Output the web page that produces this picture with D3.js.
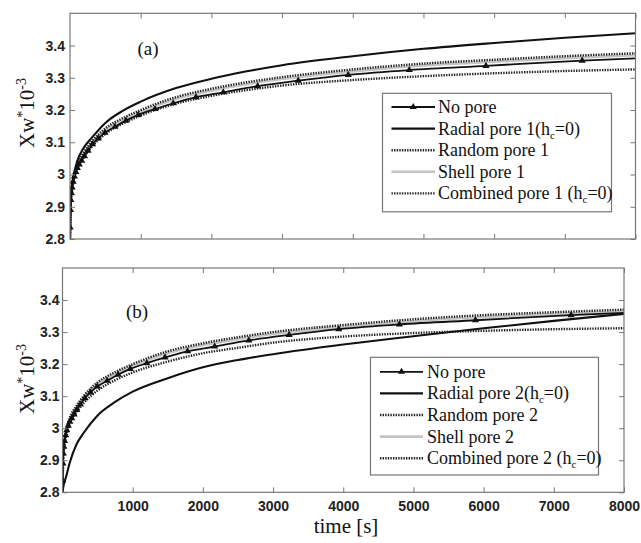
<!DOCTYPE html>
<html>
<head>
<meta charset="utf-8">
<script src="https://cdn.jsdelivr.net/npm/d3@7"></script>
<style>
  body { margin: 0; background: #fff; }
  svg { display: block; }
  .tick text { font-family: "Liberation Sans", Arial, sans-serif; font-weight: bold; font-size: 14px; fill: #222; }
  .tick line { stroke: #777; }
  .serif { font-family: "Liberation Serif", "Times New Roman", serif; fill: #111; }
</style>
</head>
<body>
<div id="chart"></div>
<script>
// shared time grid for the smooth curves (s)
const timeGrid = [0, 10, 25, 50, 100, 200, 300, 500, 750, 1000, 1500, 2000, 2500, 3000, 4000, 5000, 6000, 7000, 8000];

// no pore run (same in both panels), sampled where the markers sit
const noPoreTime = [0, 2, 6, 12, 20, 30, 45, 62, 82, 105, 132, 165, 205, 255, 320, 400, 495, 636, 792, 966, 1202, 1461, 1782, 2168, 2655, 3229, 3936, 4800, 5884, 7246, 8000];
const noPore = [2.800, 2.836, 2.890, 2.921, 2.942, 2.960, 2.978, 2.994, 3.008, 3.020, 3.031, 3.043, 3.057, 3.074, 3.094, 3.112, 3.130, 3.148, 3.167, 3.185, 3.203, 3.221, 3.240, 3.255, 3.274, 3.291, 3.309, 3.324, 3.337, 3.353, 3.360];

// panel (a), pore type 1
const radial1   = [2.80, 2.92, 2.96, 2.995, 3.040, 3.085, 3.112, 3.160, 3.198, 3.226, 3.268, 3.297, 3.320, 3.339, 3.367, 3.390, 3.408, 3.424, 3.438];
const random1   = [2.80, 2.915, 2.952, 2.990, 3.030, 3.070, 3.100, 3.143, 3.175, 3.200, 3.240, 3.266, 3.286, 3.302, 3.326, 3.344, 3.356, 3.367, 3.376];
const shell1    = [2.80, 2.910, 2.947, 2.985, 3.025, 3.065, 3.095, 3.137, 3.169, 3.194, 3.234, 3.260, 3.280, 3.296, 3.320, 3.338, 3.350, 3.361, 3.370];
const combined1 = [2.80, 2.905, 2.940, 2.978, 3.016, 3.055, 3.084, 3.126, 3.158, 3.183, 3.220, 3.244, 3.262, 3.276, 3.293, 3.305, 3.314, 3.321, 3.326];

// panel (b), pore type 2
const radial2   = [2.80, 2.815, 2.830, 2.848, 2.890, 2.950, 2.985, 3.040, 3.082, 3.114, 3.156, 3.190, 3.213, 3.231, 3.261, 3.287, 3.312, 3.335, 3.357];
const random2   = [2.80, 2.915, 2.952, 2.990, 3.030, 3.070, 3.100, 3.143, 3.175, 3.200, 3.240, 3.265, 3.284, 3.300, 3.322, 3.340, 3.353, 3.362, 3.370];
const shell2    = [2.80, 2.910, 2.947, 2.985, 3.025, 3.065, 3.095, 3.137, 3.169, 3.194, 3.234, 3.259, 3.278, 3.294, 3.316, 3.334, 3.347, 3.356, 3.364];
const combined2 = [2.80, 2.905, 2.940, 2.975, 3.013, 3.050, 3.078, 3.118, 3.150, 3.174, 3.208, 3.234, 3.251, 3.267, 3.286, 3.297, 3.304, 3.309, 3.312];

const xTicks = [1000, 2000, 3000, 4000, 5000, 6000, 7000, 8000];
const yTicks = [2.8, 2.9, 3, 3.1, 3.2, 3.3, 3.4];
const xDomain = [0, 8000];
const yDomain = [2.8, 3.5];

const legendNames1 = ["No pore", "Radial pore 1(h|c|=0)", "Random pore 1", "Shell pore 1", "Combined pore 1 (h|c|=0)"];
const legendNames2 = ["No pore", "Radial pore 2(h|c|=0)", "Random pore 2", "Shell pore 2", "Combined pore 2 (h|c|=0)"];

const width = 641, height = 543;

const styles = {
  noPore:   { stroke: "#111", width: 1.8, dash: null, marker: true },
  radial:   { stroke: "#111", width: 2.1, dash: null },
  random:   { stroke: "#222", width: 2.4, dash: "1.4,1.2" },
  shell:    { stroke: "#c4c4c4", width: 2.6, dash: null },
  combined: { stroke: "#222", width: 2.4, dash: "1.4,1.2" },
};

const panels = [
  {
    id: "a", label: "(a)", box: { l: 70, r: 635.5, t: 13.3, b: 239 }, showX: false,
    series: [["shell", shell1], ["random", random1], ["combined", combined1], ["radial", radial1]],
    names: legendNames1, legend: { x: 382.5, y: 93.3, w: 229, h: 118.5, lx0: 391.5, lx1: 435, tx: 438, row0: 107, step: 21.6 },
    tag: { x: 148, y: 55 }, ylab: 113,
  },
  {
    id: "b", label: "(b)", box: { l: 62.5, r: 624, t: 268, b: 492.3 }, showX: true,
    series: [["shell", shell2], ["random", random2], ["combined", combined2], ["radial", radial2]],
    names: legendNames2, legend: { x: 370.5, y: 357.3, w: 228, h: 117.7, lx0: 380, lx1: 423, tx: 427, row0: 371.8, step: 21.6 },
    tag: { x: 137, y: 318 }, ylab: 379,
  },
];

const svg = d3.select("#chart").append("svg")
  .attr("width", width).attr("height", height);

svg.append("rect").attr("width", width).attr("height", height).attr("fill", "#fff");

const marker = d3.symbol().type(d3.symbolTriangle).size(22);

function applyStyle(sel, st) {
  sel.attr("fill", "none")
    .attr("stroke", st.stroke)
    .attr("stroke-width", st.width)
    .attr("stroke-dasharray", st.dash);
}

function addSubText(sel, str) {
  // "h|c|=0" -> h with subscript c
  str.split("|").forEach((part, i) => {
    const t = sel.append("tspan").text(part);
    if (i % 2 === 1) t.attr("font-size", "11px").attr("baseline-shift", "-4");
  });
}

panels.forEach((p) => {
  const b = p.box;
  const x = d3.scaleLinear().domain(xDomain).range([b.l, b.r]);
  const y = d3.scaleLinear().domain(yDomain).range([b.b, b.t]);
  const g = svg.append("g").attr("class", `panel-${p.id}`);

  const clipId = `clip-${p.id}`;
  g.append("clipPath").attr("id", clipId)
    .append("rect").attr("x", b.l).attr("y", b.t).attr("width", b.r - b.l).attr("height", b.b - b.t);

  const plot = g.append("g").attr("clip-path", `url(#${clipId})`);

  const line = d3.line()
    .x((d) => x(d[0]))
    .y((d) => y(d[1]))
    .curve(d3.curveMonotoneX);

  p.series.forEach(([key, vals]) => {
    plot.append("path")
      .datum(timeGrid.map((t, i) => [t, vals[i]]))
      .attr("d", line)
      .call(applyStyle, styles[key]);
  });

  const np = noPoreTime.map((t, i) => [t, noPore[i]]);
  plot.append("path").datum(np).attr("d", line).call(applyStyle, styles.noPore);
  plot.selectAll(".mk")
    .data(np.slice(1, -1))
    .join("path")
    .attr("class", "mk")
    .attr("d", marker)
    .attr("transform", (d) => `translate(${x(d[0])},${y(d[1])})`)
    .attr("fill", "#111");

  // axes with inward ticks
  const xb = d3.axisBottom(x).tickValues(xTicks).tickSize(-5).tickPadding(9).tickFormat(p.showX ? d3.format("d") : "");
  const xt = d3.axisTop(x).tickValues(xTicks).tickSize(-5).tickFormat("");
  const yl = d3.axisLeft(y).tickValues(yTicks).tickSize(-5).tickPadding(p.id === "a" ? 5 : 3).tickFormat(d3.format("~g"));
  const yr = d3.axisRight(y).tickValues(yTicks).tickSize(-5).tickFormat("");

  g.append("g").attr("transform", `translate(0,${b.b})`).call(xb).call((s) => s.select(".domain").remove());
  g.append("g").attr("transform", `translate(0,${b.t})`).call(xt).call((s) => s.select(".domain").remove());
  g.append("g").attr("transform", `translate(${b.l},0)`).call(yl).call((s) => s.select(".domain").remove());
  g.append("g").attr("transform", `translate(${b.r},0)`).call(yr).call((s) => s.select(".domain").remove());

  g.append("rect")
    .attr("x", b.l).attr("y", b.t).attr("width", b.r - b.l).attr("height", b.b - b.t)
    .attr("fill", "none").attr("stroke", "#777").attr("stroke-width", 1.2);

  g.append("text").attr("class", "serif")
    .attr("x", p.tag.x).attr("y", p.tag.y)
    .attr("text-anchor", "middle").attr("font-size", "19px")
    .text(p.label);

  // y label: Xw*10^-3
  const yt = g.append("text").attr("class", "serif")
    .attr("transform", `translate(34,${p.ylab}) rotate(-90)`)
    .attr("text-anchor", "middle").attr("font-size", "21px");
  yt.append("tspan").text("Xw");
  yt.append("tspan").text("*").attr("font-size", "14px").attr("baseline-shift", "7");
  yt.append("tspan").text("10");
  yt.append("tspan").text("-3").attr("font-size", "14px").attr("baseline-shift", "8");

  // legend
  const L = p.legend;
  const lg = g.append("g").attr("class", "legend");
  lg.append("rect")
    .attr("x", L.x).attr("y", L.y).attr("width", L.w).attr("height", L.h)
    .attr("fill", "#fff").attr("stroke", "#777").attr("stroke-width", 1.2);

  const keys = ["noPore", "radial", "random", "shell", "combined"];
  keys.forEach((k, i) => {
    const cy = L.row0 + i * L.step;
    lg.append("line")
      .attr("x1", L.lx0).attr("x2", L.lx1).attr("y1", cy).attr("y2", cy)
      .call(applyStyle, styles[k]);
    if (styles[k].marker) {
      lg.append("path").attr("d", marker)
        .attr("transform", `translate(${(L.lx0 + L.lx1) / 2},${cy})`)
        .attr("fill", "#111");
    }
    const t = lg.append("text").attr("class", "serif")
      .attr("x", L.tx).attr("y", cy + 6).attr("font-size", "18px");
    addSubText(t, p.names[i]);
  });
});

svg.append("text").attr("class", "serif")
  .attr("x", 346).attr("y", 533)
  .attr("text-anchor", "middle").attr("font-size", "21px")
  .text("time [s]");
</script>
</body>
</html>
